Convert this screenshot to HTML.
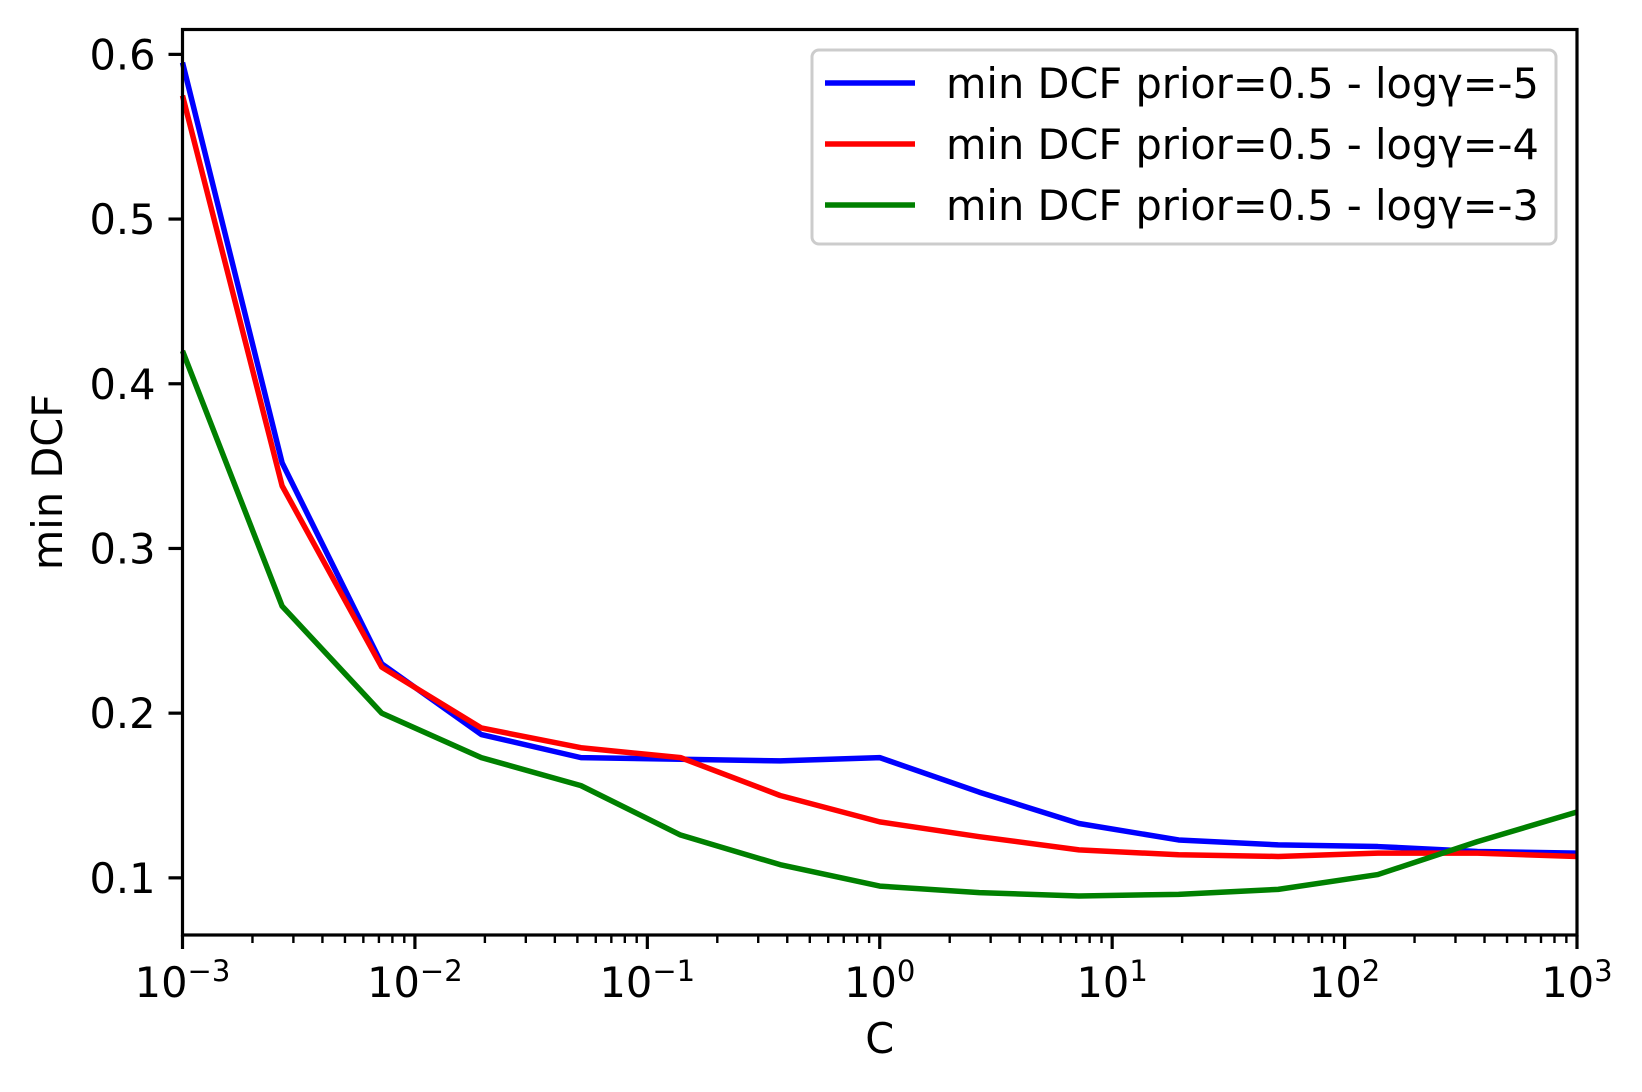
<!DOCTYPE html>
<html><head><meta charset="utf-8"><style>
html,body{margin:0;padding:0;background:#fff;}
svg{display:block;font-family:"DejaVu Sans","Liberation Sans",sans-serif;}
</style></head><body>
<svg id="chart" width="1642" height="1092" viewBox="0 0 1642 1092" xmlns="http://www.w3.org/2000/svg">
<rect width="1642" height="1092" fill="#fff"/>
<g id="plot"></g>
</svg>
<script>
const logC = [-3,-2.5714,-2.1429,-1.7143,-1.2857,-0.8571,-0.4286,0,0.4286,0.8571,1.2857,1.7143,2.1429,2.5714,3];
const blueVals = [0.595,0.352,0.230,0.187,0.173,0.172,0.171,0.173,0.152,0.133,0.123,0.120,0.119,0.116,0.115];
const redVals = [0.575,0.338,0.228,0.191,0.179,0.173,0.150,0.134,0.125,0.117,0.114,0.113,0.115,0.115,0.113];
const greenVals = [0.420,0.265,0.200,0.173,0.156,0.126,0.108,0.095,0.091,0.089,0.090,0.093,0.102,0.122,0.140];
const yTicks = [0.1,0.2,0.3,0.4,0.5,0.6];
const xTickExps = [-3,-2,-1,0,1,2,3];
const legendLabels = ["min DCF prior=0.5 - logγ=-5","min DCF prior=0.5 - logγ=-4","min DCF prior=0.5 - logγ=-3"];

const L=182.5,R=1577,T=29.5,B=935;
const yMin=0.0653,yMax=0.6151;
const xs=v=>L+(v+3)/6*(R-L);
const ys=v=>B-(v-yMin)/(yMax-yMin)*(B-T);
const NS="http://www.w3.org/2000/svg";
const g=document.getElementById('plot');
function mk(tag,attrs,parent){const e=document.createElementNS(NS,tag);for(const k in attrs)e.setAttribute(k,attrs[k]);(parent||g).appendChild(e);return e;}
const FS=41.5;

const series=[[blueVals,'#0000ff','blue'],[redVals,'#ff0000','red'],[greenVals,'#008000','green']];
series.forEach(([vals,col,nm])=>{
  const d=vals.map((v,i)=>(i?'L':'M')+xs(logC[i]).toFixed(2)+' '+ys(v).toFixed(2)).join(' ');
  const p=mk('path',{d:d,fill:'none',stroke:col,'stroke-width':5.5,'stroke-linejoin':'round'});
  
  
});
const frame=mk('rect',{x:L,y:T,width:R-L,height:B-T,fill:'none',stroke:'#000','stroke-width':3.2});



yTicks.forEach(v=>{
  const y=ys(v);
  mk('line',{x1:L-14,x2:L,y1:y,y2:y,stroke:'#000','stroke-width':3.2});
  const t=mk('text',{x:L-27,y:y+15,'text-anchor':'end','font-size':FS,fill:'#000'});
  t.textContent=v.toFixed(1);
  
  
});
xTickExps.forEach(e=>{
  const x=xs(e);
  mk('line',{x1:x,x2:x,y1:B,y2:B+14,stroke:'#000','stroke-width':3.2});
  const t=mk('text',{x:x,y:997,'font-size':FS,fill:'#000'});
  
  
  const a=document.createElementNS(NS,'tspan');a.textContent='10';t.appendChild(a);
  const b=document.createElementNS(NS,'tspan');b.setAttribute('dy','-16');b.setAttribute('font-size',FS*0.7);
  b.textContent=(e<0?'\u2212':'')+Math.abs(e);t.appendChild(b);
  t.setAttribute('x',x-t.getBBox().width/2);
  if(e<3){for(let k=2;k<=9;k++){const xm=xs(e+Math.log10(k));mk('line',{x1:xm,x2:xm,y1:B,y2:B+8,stroke:'#000','stroke-width':2.4});}}
});
const xl=mk('text',{x:(L+R)/2,y:1053,'text-anchor':'middle','font-size':FS,fill:'#000'});
xl.textContent='C';


const yl=mk('text',{x:0,y:0,'text-anchor':'middle','font-size':FS,fill:'#000',transform:'translate(62,482) rotate(-90)'});
yl.textContent='min DCF';



const lg=mk('g',{});


mk('rect',{x:812,y:50,width:744,height:194,rx:7,fill:'#fff','fill-opacity':0.8,stroke:'#cccccc','stroke-width':3},lg);
const ly=[83,144,205];
legendLabels.forEach((lab,i)=>{
  const e=mk('g',{},lg);
  
  
  mk('line',{x1:825,x2:915,y1:ly[i],y2:ly[i],stroke:series[i][1],'stroke-width':5.5},e);
  const t=mk('text',{x:946,y:ly[i]+15,'font-size':FS,fill:'#000'},e);
  t.textContent=lab;
});
</script>
</body></html>
